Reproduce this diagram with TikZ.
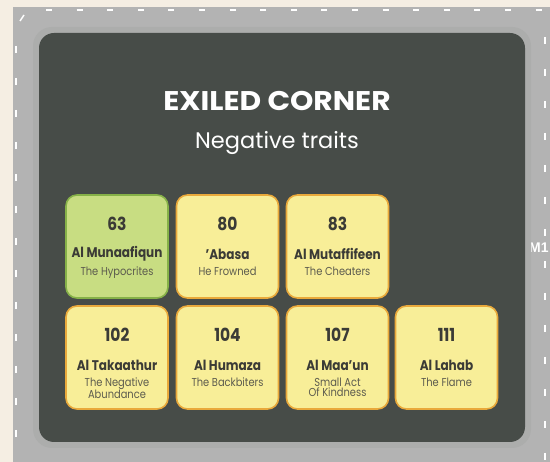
\documentclass[tikz,border=0pt]{standalone}
\usepackage{fontspec}
\setmainfont{Poppins}
\newfontfamily\boxfont{Poppins}[FakeStretch=0.86]
\newfontfamily\titlefont{Poppins}[FakeStretch=1.1]
\newfontfamily\labfont{Liberation Sans}
\definecolor{cream}{HTML}{F5EEE3}
\definecolor{framecol}{HTML}{B3B3B3}
\definecolor{shadecol}{HTML}{ACADAC}
\definecolor{panelcol}{HTML}{474C48}
\definecolor{yfill}{HTML}{F8EE98}
\definecolor{yline}{HTML}{E9A93B}
\definecolor{gfill}{HTML}{C8DD82}
\definecolor{gline}{HTML}{86B148}
\definecolor{ink}{HTML}{3B3B36}
\definecolor{subink}{HTML}{5C5B4E}
\tikzset{
  card/.style={draw=yline, fill=yfill, line width=1.6pt, rounded corners=11pt, minimum width=102pt, minimum height=103pt, inner sep=0pt},
  gcard/.style={card, draw=gline, fill=gfill},
  wdash/.style={draw=white, line width=1.8pt},
  numtxt/.style={inner sep=0pt, text=ink, font=\boxfont\bfseries\fontsize{18}{20}\selectfont},
  nametxt/.style={inner sep=0pt, text=ink, font=\boxfont\bfseries\fontsize{14}{16}\selectfont},
  subtxt/.style={inner sep=0pt, text=subink, align=center, font=\boxfont\fontsize{11.5}{11.5}\selectfont}
}
\newcommand{\cardlabels}[4]{%
  \node[numtxt] (#1n) at ([yshift=-30pt]#1.north) {#2};
  \node[nametxt] (#1m) at ([yshift=-60pt]#1.north) {#3};
  \node[subtxt, anchor=north] (#1s) at ([yshift=-72.5pt]#1.north) {#4};
}
\begin{document}
\begin{tikzpicture}[x=1pt,y=-1pt]
\useasboundingbox (0,0) rectangle (550,462);
\clip (0,0) rectangle (550,462);
\fill[cream] (0,0) rectangle (550,462);
\fill[framecol] (13,7) rectangle (550,462);
% dashed border
\draw[wdash, dash pattern=on 6pt off 24.6pt] (46,10) -- (550,10);
\draw[wdash, dash pattern=on 7pt off 25pt] (16,46) -- (16,462);
\draw[wdash, dash pattern=on 7pt off 25pt] (545,37) -- (545,462);
\draw[white, line width=1.5pt] (20,21) -- (24,15);
\node[anchor=west, text=white, inner sep=0pt, font=\labfont\bfseries\fontsize{14}{14}\selectfont] (mlab) at (529,248) {M1};
% panel
\fill[shadecol, rounded corners=19pt] (33,27) rectangle (531,448);
\fill[panelcol, rounded corners=15pt] (39,33) rectangle (525,442);
\node[text=white, font=\titlefont\bfseries\fontsize{27}{29}\selectfont] (title) at (277,101) {EXILED CORNER};
\node[text=white, font=\fontsize{22.5}{24}\selectfont] (sub) at (277,143) {Negative traits};
% cards
\node[gcard] (c63) at (117,246.5) {};
\node[card] (c80) at (227.5,246.5) {};
\node[card] (c83) at (337.5,246.5) {};
\node[card] (c102) at (117,357.5) {};
\node[card] (c104) at (227.5,357.5) {};
\node[card] (c107) at (337.5,357.5) {};
\node[card] (c111) at (446.5,357.5) {};
% card texts
\cardlabels{c63}{63}{Al Munaafiqun}{The Hypocrites}
\cardlabels{c80}{80}{’Abasa}{He Frowned}
\cardlabels{c83}{83}{Al Mutaffifeen}{The Cheaters}
\cardlabels{c102}{102}{Al Takaathur}{The Negative\\[-1pt]Abundance}
\cardlabels{c104}{104}{Al Humaza}{The Backbiters}
\cardlabels{c107}{107}{Al Maa’un}{Small Act\\[-1pt]Of Kindness}
\cardlabels{c111}{111}{Al Lahab}{The Flame}
\end{tikzpicture}
\end{document}
